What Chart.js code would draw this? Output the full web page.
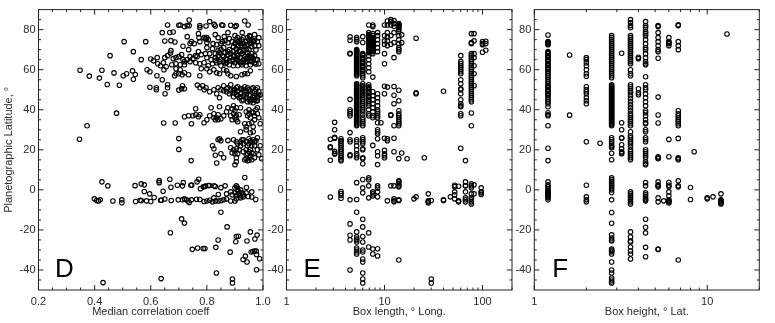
<!DOCTYPE html>
<html>
<head>
<meta charset="utf-8">
<script src="https://cdn.jsdelivr.net/npm/chart.js@4"></script>
<style>
  html, body { margin: 0; padding: 0; background: #fff; }
  body { width: 775px; height: 323px; position: relative; overflow: hidden; }
  .panel { position: absolute; top: 0; height: 323px; }
  canvas { display: block; }
</style>
</head>
<body>
<div class="panel" style="left:0;width:276px"><canvas id="chartD" width="276" height="323"></canvas></div>
<div class="panel" style="left:262px;width:262px"><canvas id="chartE" width="262" height="323"></canvas></div>
<div class="panel" style="left:512px;width:263px"><canvas id="chartF" width="263" height="323"></canvas></div>
<script>
// Ticks
const latTicks = [-40, -20, 0, 20, 40, 60, 80];
const latMinor = [-45, -35, -30, -25, -15, -10, -5, 5, 10, 15, 25, 30, 35, 45, 50, 55, 65, 70, 75, 85];
const coeffTicks = [0.2, 0.4, 0.6, 0.8, 1.0];
const coeffMinor = [0.25, 0.3, 0.35, 0.45, 0.5, 0.55, 0.65, 0.7, 0.75, 0.85, 0.9, 0.95];
const lengthTicks = [1, 10, 100];
const lengthMinor = [2, 3, 4, 5, 6, 7, 8, 9, 20, 30, 40, 50, 60, 70, 80, 90, 200];
const heightTicks = [1, 10];
const heightMinor = [2, 3, 4, 5, 6, 7, 8, 9, 20];

// Panel D: [median correlation coeff, latitude]
const dNorth = [
  [.66,82.3],[.70,82.2],[.705,82.3],[.72,81.5],[.73,82],[.737,82],[.737,84.8],[.775,82],[.775,81],[.797,81.8],[.81,84],[.826,82.6],[.83,81.8],[.853,82.3],[.857,82.2],[.885,82.2],[.9,81.5],[.905,82],[.935,84.3],[.947,82.3],
  [.641,78.5],[.668,78.6],[.68,78.8],[.73,76.5],[.77,78],[.772,76],[.79,76],[.795,75.5],[.80,76],[.83,77.5],[.84,76],[.875,78.5],[.862,76.5],[.90,77],[.91,76],[.926,78.5],[.952,77],[.97,77.5],[.985,76],
  [.65,74.3],[.672,74.5],[.686,73.8],[.74,73],[.745,74],[.755,73],[.775,74],[.80,73.5],[.805,75],[.822,73],[.835,72.5],[.85,73],[.855,74],[.875,73.5],[.9,73],[.91,72],[.915,74.5],[.925,75],[.93,73],[.935,71.5],[.94,74],[.945,72.5],[.95,75],[.955,73],[.96,71.5],[.965,74],[.97,72],[.975,69.8],
  [.715,71.7],[.735,70],[.672,69.5],[.67,68.3],[.77,69],[.80,71],[.81,68],[.82,70.5],[.84,69.5],[.86,71],[.88,70],[.905,70.5],[.92,69],[.945,68.5],[.96,68],
  [.60,65.3],[.61,64.5],[.623,66],[.65,66],[.66,67],[.68,65.5],[.69,66],[.70,66.5],[.715,65],[.73,65],[.75,65.5],[.765,66.5],[.78,67.5],[.795,68],[.80,66],[.815,65],[.83,66],[.84,67],[.85,65],[.86,66.5],[.87,65],[.875,67.5],[.885,66],[.89,64.5],[.895,67],[.905,65.5],[.91,67],[.915,64],[.92,66],[.925,68],[.93,65],[.935,66.5],[.94,64],[.945,66],[.95,64.5],[.955,66],[.96,64],[.965,65.5],[.97,63.5],[.975,65],
  [.625,63],[.635,62],[.645,63.5],[.655,61.5],[.675,62.5],[.69,63],[.705,62.5],[.72,64],[.74,64],[.76,63.5],[.775,63],[.79,63.5],[.805,62],[.82,63],[.835,63.5],[.85,62],[.865,63],[.88,62.5],[.895,62],[.91,62],[.925,62.5],[.94,62],[.955,62.5],[.975,62.8],
  [.647,60],[.69,60.5],[.705,60],[.72,58.5],[.69,58],[.685,57],[.70,58],[.712,57.5],[.735,57.5],[.775,57],[.78,60.5],[.80,60.5],[.81,59],[.825,60],[.835,58.5],[.845,58],[.86,60],[.87,59.5],[.875,58],[.885,57],[.905,56.6],[.925,57.5],[.935,58],[.945,58],[.955,59.5]
];
const dNorthDense = [
  [.83,68],[.845,68.5],[.855,67],[.865,68.5],[.875,69],[.885,68],[.895,69],[.905,68],[.915,69.5],[.93,69.5],[.94,70],[.95,70],[.86,64],[.87,63.5],[.88,64.5],[.895,65],[.90,63.5],[.91,64.5],[.92,63.5],[.93,63.5],[.94,65.5],[.95,67],[.96,66.5],[.97,67],[.98,65],[.985,63],
  [.905,75],[.91,74],[.92,73],[.925,72],[.93,76],[.945,76],[.955,76.5],[.96,74.5],[.97,74.5],[.98,74],[.985,72],[.865,74.5],[.88,75.5],[.89,74],[.895,71.5],[.85,70],[.83,64.5],[.845,64],[.76,67],[.74,66.5],[.71,67.5],[.72,62.5]
];
const dLone = [
  [.346,25.3],[.373,32],[.348,59.7],[.381,56.8],[.417,55.8],[.426,59.7],[.445,52.6],[.455,67],[.469,58.4],[.488,52.2],[.502,57],[.514,58],[.505,74],[.478,38.3],[.538,69],[.535,59.4],[.538,55.2],[.545,57.6],[.566,65],[.582,74],[.587,60],[.597,59],[.597,51.2],[.62,51],[.62,50],[.622,57],[.641,55],[.646,33.4],[.687,33.4],[.70,25.6],[.70,20.2],[.744,14.6],[.651,48],[.66,51],[.66,52.5]
];
const dMid = [
  [.70,49.8],[.71,50.5],[.713,52],[.72,50.5],[.766,52.3],[.775,51],[.785,52],[.79,50],[.797,51],[.81,49],[.825,50],[.84,51],[.835,48],[.845,46],[.86,52],[.875,51],[.885,52.5],[.895,50],[.905,51],
  [.86,49.5],[.87,49],[.88,48],[.89,48.5],[.895,46.5],[.905,47.5],[.91,49],[.915,46],[.92,48],[.925,50.5],[.93,47],[.935,49],[.94,46],[.945,51],[.95,47.5],[.955,49.5],[.96,45],[.965,51],[.97,47],[.975,50],[.98,46.5],[.985,49],[.99,47.5],[.925,44.5],[.945,44],[.965,43.5],[.975,44.5],
  [.76,40.5],[.72,36.5],[.735,37],[.745,33],[.75,37],[.76,37.5],[.77,36.5],[.775,37.5],[.79,33.5],[.80,35],[.81,37],[.815,41],[.825,38],[.835,36],[.84,35],[.85,35.5],[.845,41.5],[.86,37],[.87,39],[.875,41],[.885,37],[.89,35],[.895,42],[.90,36],[.905,41],[.91,34],[.92,41],[.94,39],[.945,37],[.95,40],[.96,39],[.97,37],[.98,38],[.985,36],[.99,33],
  [.935,33],[.94,31.5],[.95,33],[.96,33.5],[.965,31.5],[.92,29],[.94,30],[.955,28.5],[.965,29]
];
const dMidDense = [
  [.90,50],[.91,51.5],[.92,50.5],[.93,50],[.935,51.5],[.94,49.5],[.95,50],[.955,47],[.96,50.5],[.97,49],[.975,48],[.98,51],[.985,47],[.93,45],[.94,47.5],[.95,45],[.955,44],[.965,46],[.97,45],[.98,44.5],[.92,46.5],[.91,47],[.90,48.5],[.885,50],[.87,50.5],[.85,50],
  [.895,38],[.90,39.5],[.905,37],[.89,40.5],[.905,35],[.915,37.5],[.95,38],[.955,36],[.965,38.5],[.975,40],[.98,41],[.97,35],[.825,36],[.83,35],[.84,37.5]
];
const dLow = [
  [.82,22],[.825,20.5],[.83,17.3],[.84,25],[.845,25.5],[.85,24.5],[.85,18],[.86,16],[.835,13.4],[.875,24.7],[.885,21],[.895,25],[.905,24],[.91,18],[.915,20],[.89,18.5],[.90,12.5],[.905,14],[.905,16],[.92,22],[.925,25],[.93,19],[.935,15],[.94,17.5],[.945,22],[.945,14.5],[.95,25.5],[.955,20],[.96,24],[.965,18],[.97,16],[.97,22],[.975,24.5],[.98,26],[.98,20],[.985,17.5],[.99,22],[.995,15.5],[.92,24],[.93,23],[.94,20],[.95,16],[.96,15],
  [.93,25],[.94,24],[.95,23],[.955,24.5],[.96,22],[.965,25],[.97,24],[.945,18],[.95,19],[.955,17],[.96,18.5],[.95,14.8],[.94,15.5],[.895,20],[.90,18],[.905,20.5],[.91,23]
];
const dEquator = [
  [.426,4],[.447,2],[.544,2.1],[.566,3],[.577,2.5],[.63,4.6],[.63,3.6],[.668,5.3],[.672,1.3],[.695,2.3],[.716,3.6],[.713,2],[.743,2.3],[.746,2.4],[.765,4],[.771,5.3],[.777,.6],[.787,1.5],[.792,1.7],[.795,1.9],[.805,2.2],[.81,2.2],[.826,2],[.83,1.7],[.85,1.1],[.865,2],[.90,1],[.905,2],[.908,1.3],[.91,.3],[.92,0],[.941,1.2],[.935,6.2],
  [.644,-.7],[.577,-.8],[.596,-2],[.841,-2.3],[.87,-2],[.885,-1],[.89,-2.5],[.90,-1.5],[.905,-3],[.91,-.5],[.915,-2],[.92,-3],[.925,-1.5],[.93,-2.5],[.94,-1.5],[.96,-1],
  [.399,-4.5],[.407,-5.3],[.414,-5.6],[.42,-5],[.465,-5.6],[.497,-5],[.497,-6.4],[.546,-5.8],[.562,-5.2],[.566,-5.4],[.585,-5.5],[.6,-5.8],[.612,-3.8],[.635,-5.2],[.638,-5.2],[.65,-4.6],[.673,-5.3],[.698,-5],[.713,-5],[.72,-4.5],[.727,-5],[.733,-5.6],[.737,-6.3],[.745,-5],[.763,-4.7],[.775,-4.8],[.79,-5.8],[.80,-5.6],[.81,-5.2],[.82,-6],[.825,-4],[.83,-5.6],[.84,-5.6],[.85,-5.4],[.86,-5],[.87,-4.5],[.885,-5.6],[.90,-5.6],[.905,-4.5],[.92,-4],[.93,-3.5],[.947,-3.3],[.96,-3.6],[.974,-4.8]
];
const dSouth = [
  [.85,-11.2],[.71,-14.5],[.72,-16.6],[.67,-21.4],[.872,-18.5],[.955,-21],[.979,-22.6],[.905,-23.3],[.912,-23.2],[.84,-25],[.903,-25.9],[.943,-25.5],[.971,-24.5],[.748,-29.7],[.767,-29],[.787,-29.3],[.793,-29.3],[.832,-28.7],[.883,-31.1],[.958,-31],[.964,-30.8],[.97,-30.6],[.976,-30.5],[.937,-33.1],[.929,-34.8],[.943,-36],[.988,-34.4],[.977,-32.3],[.977,-39.9],[.834,-41.5],[.637,-44.3],[.891,-44.5],[.891,-46.5],[.43,-46.3]
];

// Panel E: [box length, latitudes in that column]
const eColumns = [
  [2.8, [25.3, 21.5, 21, 14.8, -3.6]],
  [3.1, [33.7, 30, 26.2, 25.8, 19.2, 18.2, 17.9]],
  [3.6, [25.5, 24.5, 24, 23, 22, 21, 20, 19, 18, 17, 16, 15, 14.5, -.8, -1.8, -2.8, -4.2]],
  [4.45, [76.4, 74.7, 68.2, 67.9, 45.2, 40, 39, 38, 37, 28.6, 25, 24, 17.5, 17, -5, -17, -22.7, -25, -40]],
  [5.2, [76, 75, 74, 70, 69.5, 69, 68.5, 68, 67.5, 67, 66.5, 66, 65.5, 65, 64.5, 64, 63.5, 63, 62.5, 62, 61.5, 61, 60.5, 60, 59.5, 59, 58.5, 58, 57.5, 57, 53, 52.5, 52, 51.5, 51, 50.5, 50, 49.5, 49, 48.5, 48, 47.5, 47, 46.5, 46, 45.5, 45, 44.5, 44, 43.5, 43, 42.5, 42, 41.5, 41, 40.5, 40, 39.5, 39, 38.5, 38, 37.5, 37, 36.5, 36, 35.5, 35, 34.5, 34, 33.5, 33, 32.5, 32, 25, 24, 22, 20, 18, 17, 16, 3.6, -4.8, -11.2, -21, -23.5, -24.5, -25, -26, -29, -30, -31, -32]],
  [6, [76.5, 73.6, 68, 67.5, 67, 66, 65.5, 65, 64, 63.5, 63, 62, 61.5, 61, 60, 59.5, 59, 58, 57, 56, 53, 52, 51.5, 50.5, 50, 49, 48.5, 47.5, 47, 46, 45, 44, 43, 42, 41, 40, 39, 37.5, 36, 35, 34, 33, 32, 26, 25, 24, 23, 20.5, 20, 16, 15.5, 13, 5.2, 1, -1.5, -14.7, -18.5, -23.3, -26, -30, -31, -34.5, -36, -41.5, -44.5, -46.5]],
  [6.9, [82.3, 78.5, 77.5, 77, 76.5, 76, 75.5, 75, 74.5, 74, 73.5, 73, 72.5, 72, 71.5, 71, 70.5, 70, 69.5, 69, 68.5, 67, 65, 63, 61, 59, 52.5, 51.5, 51, 50.5, 50, 49, 48.5, 48, 47, 46.5, 46, 45, 44, 43, 42, 40, 38, 37, 6, 5, 2, -4, -21.5, -28.5]],
  [7.6, [82.3, 81.5, 78, 77, 76, 75.5, 75, 74.5, 74, 73.5, 73, 72.5, 72, 71.5, 71, 70.5, 70, 69.5, 69, 68, 56.3, 49, 47, 45, 43, 41, 39, 37, 36, 22.2, -1, -2, -3, -29.5, -32]],
  [8.5, [78.5, 77, 75, 73, 71, 69, 48, 46, 44, 42, 40, 39, 38, 37, 36, 33.5, 30, 29, 28, 25.5, 19, 17, 12.6, 2, 1, -1, -3.5, -29.4, -33]],
  [9.2, [33.5]],
  [10, [82.3, 77, 74.4, 72.7, 68, 63, 51.7, 48, 25.8, 19.7, 18, 17, 16]],
  [10.7, [84.3, 82.3, 78.5, 76.5, 74.4, 72, 51.3, 25.5, 24.5, -5.5]],
  [11.6, [85, 84, 82.3, 77, 72.7, 37.5, 37.1, 2]],
  [12.5, [84.5, 83, 81.7, 78.5, 73.6, 66, 51.6, 47.2, 43, 32, 25.8, 19, 2, -4.5, -5.5, -6]],
  [14, [83, 82.5, 82, 81.5, 81, 80, 79, 77, 75, 73, 71, 70, 69, 49.7, 44.5, 39.5, 38, 37, 36, 35, 34, 33, 32, 15.6, 4.5, 4, 3, 2, 1.5, -5, -5.3, -35]],
  [15, [77.4, 73.5, 18.4]],
  [17, [15.5]],
  [20, [-4.5]],
  [21, [75.7, 48.5, 48, -3.5]],
  [25.5, [16]],
  [28, [-2, -5.5, -6, -6.5]],
  [30, [-5.3, -44.5, -46.5]],
  [40, [49.2, -5, -5.3]],
  [47, [-3.5]],
  [52, [2.3, 1.6, -1, -2.5, -4.5]],
  [57, [-5.5, -6, 1.8]],
  [60, [67, 64, 63, 62, 61, 60, 59, 58, 55, 53, 50.5, 50, 48, 45, 43, 42, 41.5, 38, 37, 20.8]],
  [67, [14.6, 4, 2.2, 2, -1, -4, -5, -6]],
  [77, [78, 73.5, 73, 68, 67, 66, 65, 64, 63, 62, 61, 60, 59, 58, 57, 56, 55, 54, 53, 52, 51, 50, 49, 48, 47, 46, 45, 44, 38.4, 32, 3, 2, 1, -2, -4, -5, -6, -7]],
  [82, [78, 74.4, 68, 66, 62, 58, 52, 2.5, -2]],
  [97, [1, -1, -1.5, -2.3]],
  [100, [74, 73, 72.5, 68.7]],
  [108, [74.2, 73, 69.7]]
];

// Panel F: [box height, latitudes in that column]
const fColumns = [
  [1.2, [77.3, 74, 73.5, 73, 72.5, 69, 68.5, 68, 67, 66.5, 66, 65, 64.5, 64, 63, 62.5, 62, 61, 60.5, 60, 59, 58, 57, 56, 55, 54, 53, 52, 51.5, 51, 50, 49.5, 49, 48, 47.5, 47, 46, 45, 44, 43, 41.5, 38.5, 37.5, 37, 32, 20.8, 14.6, 4, 2.5, 1.5, .5, -.5, -1, -1.5, -2, -2.5, -3, -3.5, -4, -5]],
  [1.6, [67.3, 37.3]],
  [2, [66, 65, 63.5, 62, 60, 58, 56.7, 51.5, 50, 49, 48, 46, 44.5, 43, 24, 2.3, -3.5, -5, -6]],
  [2.4, [23.3]],
  [2.8, [77, 76, 75, 74, 73, 72, 71, 70, 69, 68, 67, 66, 65, 64, 63, 62, 61, 60, 59, 58, 57, 56, 52.5, 52, 51.5, 51, 50.5, 50, 49.5, 49, 48.5, 48, 47.5, 47, 46.5, 46, 45.5, 45, 44.5, 44, 43.5, 43, 42.5, 42, 41.5, 41, 40.5, 40, 39.5, 39, 38.5, 38, 37.5, 37, 36.5, 36, 35.5, 35, 34.5, 34, 33.5, 33, 32.5, 32, 26, 25, 24, 23, 22, 21.5, 21, 18.3, 15, 6, 5, 4, 3, 2, 1, 0, -1.3, -5, -11.3, -16.7, -22.5, -24, -25, -25.5, -29.5, -30, -30.5, -31, -32, -36, -40, -41.5, -44, -45, -46, -46.5]],
  [3.2, [68.2, 33.5, 30, 26, 25.8, 22.5, 20.5, 19, 18.5, 18]],
  [3.6, [85, 83.5, 82, 81, 77, 76, 75, 74, 73, 72, 71, 70, 69, 68, 67, 66, 65, 64, 63, 60, 58, 57, 52.5, 51.5, 50.5, 49.5, 48.5, 47, 45.5, 44, 42.5, 41, 39.5, 38, 37, 36, 35, 34, 33, 32, 29, 27, 26, 25, 24, 23, 21.5, 20, 19, 18, 17, 16, 15, -1, -2, -3, -4, -5, -6, -7, -21, -23.5, -25.5, -26, -28.5, -30.5, -32, -34.5]],
  [4, [66.2, 65.5, 50.5, 48.5, 47.5]],
  [4.4, [84, 82, 81, 79, 78, 77, 75, 73, 71, 70, 68, 66, 64, 63, 62.5, 56.5, 52.5, 51, 50, 48, 46, 44, 42, 39.5, 38.5, 37, 35, 33.5, 33, 30, 29, 26, 25, 24, 20, 19, 18, 17, 16, 14, 13, 12.5, 3.6, 2, -1.5, -2.5, -3.5, -4.5, -5, -5.5, -14.7, -18.7, -21.5, -28.7, -33.4]],
  [5.2, [82, 81.5, 78.5, 76, 74, 72, 70, 69, 65.7, 46.3, 37.4, 33.4, 16.5, 16, 15.5, 4, 2.5, 2, 1.5, -4, -6, -29.5, -29.8]],
  [5.6, [-5.5]],
  [6, [76, 74, 73.5, 73, 72, 25.2, 16.5, 3.7, 2.3, 1.5, -1, -3, -5, -5.5, -6, -6.5]],
  [6.8, [82.4, 82, 74, 72, 70, 39.5, 38, 37, 36, 35, 34, 33, 32, 25.7, 16, 15.5, 15, 4.5, 2, 1.5, -35]],
  [8, [1.2, -4.8]],
  [8.4, [19]],
  [10, [-4, -4.5]],
  [10.8, [-3.5]],
  [12, [-2, -5, -5.5, -6, -6.5, -7]],
  [13, [77.8]]
];

const fontName = "'Liberation Sans', Arial, sans-serif";
const inkColor = "#000";
const textColor = "#2a2a2a";

function fromPairs(pairs) {
  return pairs.map((p) => ({ x: p[0], y: p[1] }));
}

function fromColumns(columns) {
  return columns.flatMap((c) => c[1].map((lat) => ({ x: c[0], y: lat })));
}

// Frame, inward ticks on all four sides, panel letter
const framePlugin = {
  id: "frame",
  afterDatasetsDraw(chart, args, opts) {
    const { ctx, chartArea: a, scales } = chart;
    const major = 5;
    const minor = 2.5;
    ctx.save();
    ctx.strokeStyle = "#222";
    ctx.lineWidth = 1;
    ctx.strokeRect(a.left, a.top, a.right - a.left, a.bottom - a.top);
    const tickX = (values, len) => {
      values.forEach((v) => {
        const px = scales.x.getPixelForValue(v);
        ctx.beginPath();
        ctx.moveTo(px, a.bottom);
        ctx.lineTo(px, a.bottom - len);
        ctx.moveTo(px, a.top);
        ctx.lineTo(px, a.top + len);
        ctx.stroke();
      });
    };
    const tickY = (values, len) => {
      values.forEach((v) => {
        const py = scales.y.getPixelForValue(v);
        ctx.beginPath();
        ctx.moveTo(a.left, py);
        ctx.lineTo(a.left + len, py);
        ctx.moveTo(a.right, py);
        ctx.lineTo(a.right - len, py);
        ctx.stroke();
      });
    };
    tickX(opts.xTicks, major);
    tickX(opts.xMinor, minor);
    tickY(latTicks, major);
    tickY(latMinor, minor);
    // Letter
    ctx.fillStyle = "#000";
    ctx.font = "26px " + fontName;
    ctx.textBaseline = "alphabetic";
    ctx.fillText(opts.letter, scales.x.getPixelForValue(opts.letterX), scales.y.getPixelForValue(-43.4));
    ctx.restore();
  },
};

function makePanel(id, cfg) {
  new Chart(document.getElementById(id), {
    type: "scatter",
    data: {
      datasets: [
        {
          data: cfg.points,
          pointRadius: 2.25,
          pointBorderWidth: 1.1,
          pointBorderColor: inkColor,
          pointBackgroundColor: "rgba(0,0,0,0)",
        },
      ],
    },
    options: {
      responsive: false,
      animation: false,
      layout: { padding: { top: 6.5, right: cfg.rightPad, left: 0, bottom: 0 } },
      plugins: {
        legend: { display: false },
        tooltip: { enabled: false },
        frame: { xTicks: cfg.xTicks, xMinor: cfg.xMinor, letter: cfg.letter, letterX: cfg.letterX },
      },
      scales: {
        x: {
          type: cfg.xType,
          min: cfg.xMin,
          max: cfg.xMax,
          border: { display: false },
          grid: { display: false, drawTicks: false },
          afterBuildTicks: (scale) => {
            scale.ticks = cfg.xTicks.map((v) => ({ value: v }));
          },
          afterFit: (scale) => {
            scale.height = 33;
          },
          ticks: {
            autoSkip: false,
            maxRotation: 0,
            padding: 5,
            color: textColor,
            font: { family: fontName, size: 11 },
            callback: cfg.xLabel,
          },
          title: {
            display: true,
            text: cfg.xTitle,
            color: textColor,
            padding: { top: 0, bottom: 4 },
            font: { family: fontName, size: 11 },
          },
        },
        y: {
          min: -50,
          max: 90,
          border: { display: false },
          grid: { display: false, drawTicks: false },
          afterBuildTicks: (scale) => {
            scale.ticks = latTicks.map((v) => ({ value: v }));
          },
          afterFit: (scale) => {
            scale.width = cfg.leftAxis;
          },
          ticks: {
            autoSkip: false,
            padding: 3,
            color: textColor,
            font: { family: fontName, size: 11 },
          },
          title: {
            display: cfg.yTitle !== "",
            text: cfg.yTitle,
            color: textColor,
            padding: { top: 2, bottom: 0 },
            font: { family: fontName, size: 11 },
          },
        },
      },
    },
    plugins: [framePlugin],
  });
}

makePanel("chartD", {
  points: fromPairs(dNorth.concat(dNorthDense, dLone, dMid, dMidDense, dLow, dEquator, dSouth)),
  xType: "linear",
  xMin: 0.2,
  xMax: 1.0,
  xTicks: coeffTicks,
  xMinor: coeffMinor,
  xLabel: (v) => v.toFixed(1),
  xTitle: "Median correlation coeff",
  yTitle: "Planetographic Latitude, °",
  letter: "D",
  letterX: 0.259,
  leftAxis: 38.5,
  rightPad: 13,
});

makePanel("chartE", {
  points: fromColumns(eColumns),
  xType: "logarithmic",
  xMin: 1,
  xMax: 200,
  xTicks: lengthTicks,
  xMinor: lengthMinor,
  xLabel: (v) => String(v),
  xTitle: "Box length, ° Long.",
  yTitle: "",
  letter: "E",
  letterX: 1.49,
  leftAxis: 24.5,
  rightPad: 12,
});

makePanel("chartF", {
  points: fromColumns(fColumns),
  xType: "logarithmic",
  xMin: 1,
  xMax: 20,
  xTicks: heightTicks,
  xMinor: heightMinor,
  xLabel: (v) => String(v),
  xTitle: "Box height, ° Lat.",
  yTitle: "",
  letter: "F",
  letterX: 1.27,
  leftAxis: 22.3,
  rightPad: 15.7,
});
</script>
</body>
</html>
